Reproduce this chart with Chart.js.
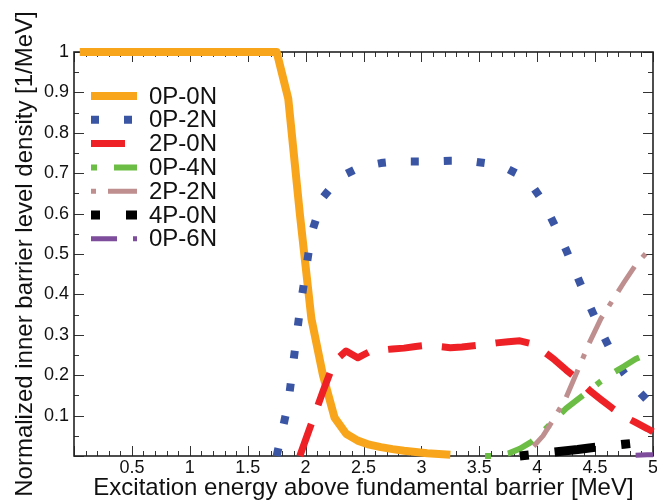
<!DOCTYPE html>
<html>
<head>
<meta charset="utf-8">
<script src="https://cdn.jsdelivr.net/npm/chart.js@4.4.1/dist/chart.umd.min.js"></script>
<style>
  html, body { margin: 0; padding: 0; background: #ffffff; }
  #wrap { width: 657px; height: 503px; }
</style>
</head>
<body>
<div id="wrap"><canvas id="chart" width="657" height="503"></canvas></div>
<script>
// Excitation energy grid [MeV]
const energies = [
  0.05, 0.15, 0.25, 0.35, 0.45, 0.55, 0.65, 0.75, 0.85, 0.95,
  1.05, 1.15, 1.25, 1.35, 1.45, 1.55, 1.65, 1.75, 1.85, 1.95,
  2.05, 2.15, 2.25, 2.35, 2.45, 2.55, 2.65, 2.75, 2.85, 2.95,
  3.05, 3.15, 3.25, 3.35, 3.45, 3.55, 3.65, 3.75, 3.85, 3.95,
  4.05, 4.15, 4.25, 4.35, 4.45, 4.55, 4.65, 4.75, 4.85, 4.95, 5.0
];

// Normalized inner barrier level density [1/MeV] per configuration
const density0P0N = [
  1, 1, 1, 1, 1, 1, 1, 1, 1, 1,
  1, 1, 1, 1, 1, 1, 1, 1, 0.885, 0.60,
  0.34, 0.20, 0.095, 0.055, 0.038, 0.028, 0.022, 0.017, 0.013, 0.010,
  0.007, 0.005, 0.003, null, null, null, null, null, null, null,
  null, null, null, null, null, null, null, null, null, null, null
];
const density0P2N = [
  null, null, null, null, null, null, null, null, null, null,
  null, null, null, null, null, null, null, 0.0, 0.13, 0.36,
  0.55, 0.64, 0.675, 0.698, 0.712, 0.72, 0.725, 0.728, 0.729, 0.729,
  0.729, 0.73, 0.731, 0.731, 0.729, 0.725, 0.719, 0.71, 0.695, 0.672,
  0.63, 0.572, 0.51, 0.442, 0.374, 0.31, 0.253, 0.205, 0.168, 0.138, null
];
const density2P0N = [
  null, null, null, null, null, null, null, null, null, null,
  null, null, null, null, null, null, null, null, null, 0.0,
  0.08, 0.16, 0.235, 0.26, 0.243, 0.258, 0.262, 0.265, 0.267, 0.271,
  0.274, 0.271, 0.268, 0.27, 0.273, 0.276, 0.28, 0.283, 0.285, 0.278,
  0.26, 0.238, 0.213, 0.19, 0.163, 0.14, 0.118, 0.098, 0.083, 0.068, 0.06
];
const density0P4N = [
  null, null, null, null, null, null, null, null, null, null,
  null, null, null, null, null, null, null, null, null, null,
  null, null, null, null, null, null, null, null, null, null,
  null, null, null, null, null, 0.0, 0.0, 0.006, 0.018, 0.035,
  0.06, 0.09, 0.118, 0.14, 0.162, 0.185, 0.205, 0.222, 0.24, 0.252, null
];
const density2P2N = [
  null, null, null, null, null, null, null, null, null, null,
  null, null, null, null, null, null, null, null, null, null,
  null, null, null, null, null, null, null, null, null, null,
  null, null, null, null, null, null, null, null, 0.0, 0.018,
  0.05, 0.095, 0.145, 0.212, 0.28, 0.34, 0.385, 0.43, 0.473, 0.505, null
];
const density4P0N = [
  null, null, null, null, null, null, null, null, null, null,
  null, null, null, null, null, null, null, null, null, null,
  null, null, null, null, null, null, null, null, null, null,
  null, null, null, null, null, null, null, null, 0.0, 0.003,
  0.006, 0.01, 0.013, 0.016, 0.02, 0.023, 0.026, 0.029, 0.032, 0.035, null
];
const density0P6N = [
  null, null, null, null, null, null, null, null, null, null,
  null, null, null, null, null, null, null, null, null, null,
  null, null, null, null, null, null, null, null, null, null,
  null, null, null, null, null, null, null, null, null, null,
  null, null, null, null, null, null, null, null, 0.002, 0.003, 0.003
];

const seriesLabels = ['0P-0N', '0P-2N', '2P-0N', '0P-4N', '2P-2N', '4P-0N', '0P-6N'];
const seriesValues = [density0P0N, density0P2N, density2P0N, density0P4N, density2P2N, density4P0N, density0P6N];
const seriesColors = ['#f8a51c', '#3a55a4', '#ed2126', '#6cbd45', '#bf8f8f', '#000000', '#7e4d9c'];
const seriesWidths = [8, 8, 7, 6, 5, 9, 5];
const seriesDashes = [[], [8, 25], [34, 20], [6, 17, 28, 17], [5, 12, 30, 12], [9, 26, 41, 26], [26, 16, 5, 16]];

const xTickLabels = ['', '0.5', '1', '1.5', '2', '2.5', '3', '3.5', '4', '4.5', '5'];
const yTickLabels = ['', '0.1', '0.2', '0.3', '0.4', '0.5', '0.6', '0.7', '0.8', '0.9', '1'];

const FONT = '"Liberation Sans", Arial, Helvetica, sans-serif';

function toPoints(values) {
  const pts = [];
  values.forEach((v, i) => { if (v !== null) pts.push({ x: energies[i], y: v }); });
  return pts;
}

const datasets = seriesLabels.map((label, i) => ({
  label,
  data: toPoints(seriesValues[i]),
  borderColor: seriesColors[i],
  backgroundColor: seriesColors[i],
  borderWidth: seriesWidths[i],
  borderDash: seriesDashes[i],
  borderCapStyle: 'butt',
  borderJoinStyle: 'round',
  pointRadius: 0,
  pointHoverRadius: 0,
  tension: 0,
  fill: false,
  clip: false,
  spanGaps: false,
  order: seriesLabels.length - i
}));

// Box frame with inward major/minor ticks on all four sides
const frameTicks = {
  id: 'frameTicks',
  beforeDatasetsDraw(chart) {
    const { ctx, chartArea: a, scales: { x, y } } = chart;
    ctx.save();
    ctx.strokeStyle = '#333';
    ctx.lineWidth = 1;
    ctx.beginPath();
    for (let k = 0; k <= 50; k++) {
      const px = Math.round(x.getPixelForValue(k / 10)) + 0.5;
      const len = k % 5 === 0 ? 10 : 5;
      ctx.moveTo(px, a.bottom); ctx.lineTo(px, a.bottom - len);
      ctx.moveTo(px, a.top); ctx.lineTo(px, a.top + len);
    }
    for (let k = 0; k <= 20; k++) {
      const py = Math.round(y.getPixelForValue(k / 20)) + 0.5;
      const len = k % 2 === 0 ? 10 : 5;
      ctx.moveTo(a.left, py); ctx.lineTo(a.left + len, py);
      ctx.moveTo(a.right, py); ctx.lineTo(a.right - len, py);
    }
    ctx.stroke();
    ctx.strokeStyle = '#222';
    ctx.lineWidth = 1.6;
    ctx.strokeRect(a.left, a.top, a.right - a.left, a.bottom - a.top);
    ctx.restore();
  }
};

// Legend inside the plot, upper left
const insideLegend = {
  id: 'insideLegend',
  afterDatasetsDraw(chart) {
    const { ctx, chartArea: a } = chart;
    ctx.save();
    ctx.font = '24px ' + FONT;
    ctx.textBaseline = 'middle';
    ctx.textAlign = 'left';
    chart.data.datasets.forEach((ds, i) => {
      const cy = a.top + 44 + i * 23.8;
      const x0 = a.left + 17;
      ctx.strokeStyle = ds.borderColor;
      ctx.lineWidth = ds.borderWidth;
      ctx.lineCap = 'butt';
      ctx.setLineDash(ds.borderDash);
      ctx.lineDashOffset = 0;
      ctx.beginPath();
      ctx.moveTo(x0, cy);
      ctx.lineTo(x0 + 46, cy);
      ctx.stroke();
      ctx.setLineDash([]);
      ctx.fillStyle = '#111';
      ctx.fillText(ds.label, x0 + 58, cy + 1);
    });
    ctx.restore();
  }
};

new Chart(document.getElementById('chart'), {
  type: 'line',
  data: { datasets },
  options: {
    responsive: false,
    animation: false,
    events: [],
    layout: { padding: { top: 52, right: 4, left: 0, bottom: 0 } },
    plugins: { legend: { display: false }, tooltip: { enabled: false } },
    scales: {
      x: {
        type: 'linear',
        min: 0, max: 5,
        ticks: {
          stepSize: 0.5,
          autoSkip: false,
          maxRotation: 0,
          padding: 1,
          color: '#111',
          font: { family: FONT, size: 18 },
          callback: (v) => xTickLabels[Math.round(v * 2)]
        },
        grid: { display: false, drawTicks: false },
        border: { display: false },
        title: {
          display: true,
          text: 'Excitation energy above fundamental barrier [MeV]',
          color: '#111',
          font: { family: FONT, size: 24 },
          padding: { top: 0, bottom: 0 }
        },
        afterFit(s) { s.height = 47; s.paddingLeft = 0; s.paddingRight = 0; }
      },
      y: {
        type: 'linear',
        min: 0, max: 1,
        ticks: {
          stepSize: 0.1,
          autoSkip: false,
          padding: 5,
          color: '#111',
          font: { family: FONT, size: 18 },
          callback: (v) => yTickLabels[Math.round(v * 10)]
        },
        grid: { display: false, drawTicks: false },
        border: { display: false },
        title: {
          display: true,
          text: 'Normalized inner barrier level density [1/MeV]',
          color: '#111',
          font: { family: FONT, size: 24 },
          padding: { top: 11, bottom: 0 }
        },
        afterFit(s) { s.width = 74; s.paddingTop = 0; s.paddingBottom = 0; }
      }
    }
  },
  plugins: [frameTicks, insideLegend]
});
</script>
</body>
</html>
